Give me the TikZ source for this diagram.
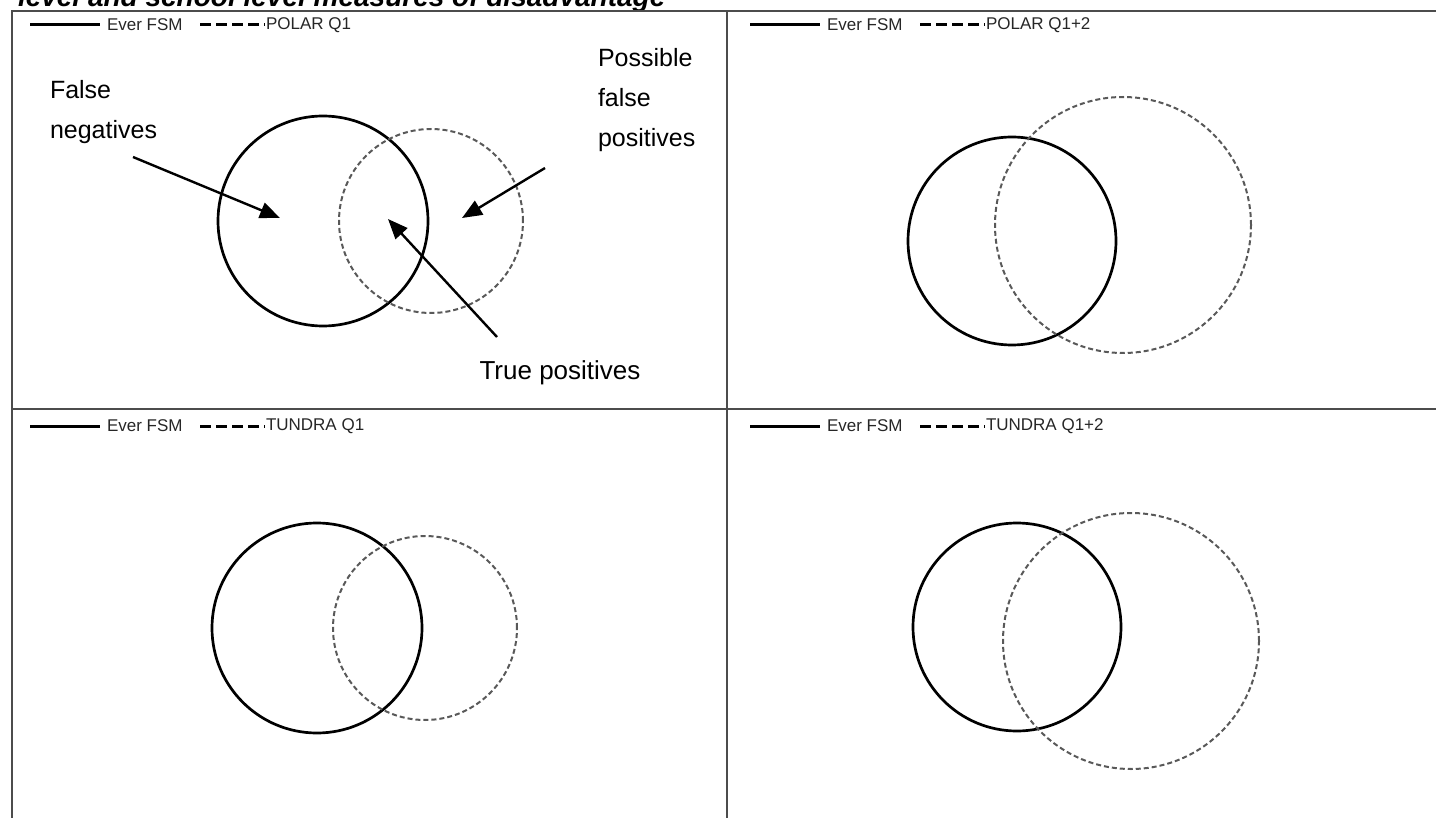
\documentclass[tikz,border=0pt]{standalone}
\usepackage{fontspec}
\setmainfont{Liberation Sans}
\usepackage{tikz}
\usetikzlibrary{arrows.meta, positioning}

\begin{document}
\begin{tikzpicture}[x=1pt, y=-1pt,
        every node/.style={inner sep=0pt, outer sep=0pt},
        frame/.style={draw=black!70, line width=1.4pt},
        fsm/.style={draw, circle, line width=2.7pt},
        polar/.style={draw=black!65, circle, dashed, dash pattern=on 5pt off 3pt, line width=2pt},
        keysolid/.style={line width=3pt},
        keydash/.style={line width=3pt, dash pattern=on 11pt off 5pt},
        keytext/.style={font=\fontsize{17}{19}\selectfont, anchor=west, text=black!85},
        note/.style={font=\fontsize{25}{40}\selectfont, align=left},
        pointer/.style={-{Triangle[length=20pt, width=16pt]}, line width=2.4pt}
    ]
    \useasboundingbox (0,0) rectangle (1436,818);
    \clip (0,0) rectangle (1436,818);

    % Title (cut off at the top)
    \node (title) [anchor=base west, font=\fontsize{28}{32}\selectfont\bfseries\itshape] at (18,7) {level and school level measures of disadvantage};

    % Frame
    \draw [frame] (12,818) -- (12,11) -- (1436,11);
    \draw [frame] (12,409) -- (1436,409);
    \draw [frame] (727,11) -- (727,818);

    % Legends
    \foreach \px/\py/\name in {0/0/POLAR Q1, 720/0/POLAR Q1+2, 0/401/TUNDRA Q1, 720/401/TUNDRA Q1+2} {
        \draw [keysolid] (\px+30,\py+25) -- (\px+100,\py+25);
        \node [keytext] at (\px+107,\py+25) {Ever FSM};
        \draw [keydash] (\px+200,\py+25) -- (\px+265,\py+25);
        \node [keytext] at (\px+266,\py+25) {\name};
    }

    % Circles
    \node (fsmA) [fsm, minimum size=210pt] at (323,221) {};
    \node (polA) [polar, minimum size=184pt] at (431,221) {};
    \node (fsmB) [fsm, minimum size=208pt] at (1012,241) {};
    \node (polB) [polar, minimum size=256pt] at (1123,225) {};
    \node (fsmC) [fsm, minimum size=210pt] at (317,628) {};
    \node (polC) [polar, minimum size=184pt] at (425,628) {};
    \node (fsmD) [fsm, minimum size=208pt] at (1017,627) {};
    \node (polD) [polar, minimum size=256pt] at (1131,641) {};

    % Labels
    \node (falseneg) [note, anchor=north west] at (50,80) {False\\negatives};
    \node (falsepos) [note, anchor=north west] at (598,48) {Possible\\false\\positives};
    \node (truepos) [note, anchor=center, font=\fontsize{26}{30}\selectfont] at (560,373) {True positives};

    % Pointers
    \coordinate (fnTail) at (133,157);
    \coordinate (fnTip) at (280,218);
    \coordinate (fpTail) at (545,168);
    \coordinate (fpTip) at (462,218);
    \coordinate (tpTail) at (497,337);
    \coordinate (tpTip) at (388,219);
    \draw [pointer] (fnTail) -- (fnTip);
    \draw [pointer] (fpTail) -- (fpTip);
    \draw [pointer] (tpTail) -- (tpTip);

\end{tikzpicture}
\end{document}
